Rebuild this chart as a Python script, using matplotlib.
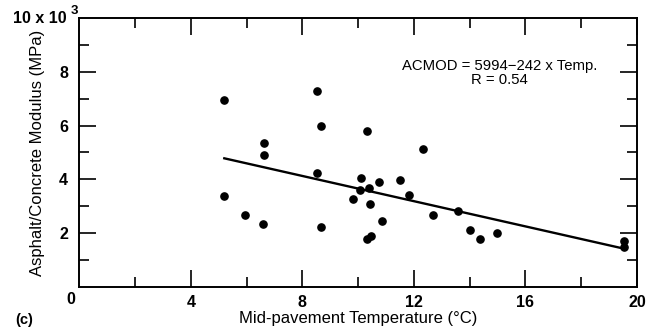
import numpy as np
import matplotlib
matplotlib.use("Agg")
import matplotlib.pyplot as plt

plt.rcParams['font.family'] = ['Liberation Sans', 'DejaVu Sans']

# mid-pavement temperature (deg C) vs AC modulus (x 10^3 MPa)
temp = [5.2, 5.2, 5.96, 6.6, 6.63, 6.61, 8.54, 8.54, 8.66, 8.68,
        9.81, 10.05, 10.12, 10.32, 10.39, 10.43, 10.33, 10.45, 10.73, 10.85,
        11.5, 11.82, 12.32, 12.69, 13.57, 14.0, 14.38, 14.98, 19.55, 19.52]
modulus = [6.97, 3.36, 2.68, 2.34, 5.35, 4.91, 7.28, 4.23, 2.21, 5.97,
           3.26, 3.61, 4.05, 5.78, 3.67, 3.09, 1.78, 1.9, 3.88, 2.45,
           3.96, 3.40, 5.14, 2.68, 2.81, 2.12, 1.77, 2.0, 1.70, 1.49]

# regression line end points
fit_x = [5.2, 19.5]
fit_y = [4.78, 1.42]

xticks = [4, 8, 12, 16, 20]
yticks = [2, 4, 6, 8]

fig = plt.figure(figsize=(6.68, 3.29), dpi=100)
ax = fig.add_axes([0.1187, 0.129, 0.8349, 0.8155])

ax.plot(temp, modulus, 'o', color='black', markersize=5.2, zorder=3)
ax.plot(fit_x, fit_y, '-', color='black', linewidth=1.7)

ax.set_xlim(0, 20)
ax.set_ylim(0, 10)

ax.set_xticks(xticks)
ax.set_xticklabels([str(t) for t in xticks], fontsize=11.5, fontweight='bold')
ax.set_xticks(np.arange(2, 20, 4), minor=True)
ax.set_yticks(yticks)
ax.set_yticklabels([str(t) for t in yticks], fontsize=11.5, fontweight='bold')
ax.set_yticks(np.arange(1, 10, 2), minor=True)

ax.tick_params(which='both', direction='in', top=True, right=True, width=1.2)
ax.tick_params(axis='x', which='major', length=12, pad=6)
ax.tick_params(axis='y', which='major', length=12, pad=8)
ax.tick_params(which='minor', length=7)
for s in ax.spines.values():
    s.set_linewidth(1.4)

# origin and top labels
ax.annotate('0', xy=(0, 0), xycoords='data', xytext=(-6, -9),
            textcoords='offset points', ha='center', va='center',
            fontsize=11.5, fontweight='bold')
ax.annotate('10 x 10', xy=(0, 10), xycoords='data', xytext=(-9, 0),
            textcoords='offset points', ha='right', va='center',
            fontsize=11.5, fontweight='bold')
ax.annotate('3', xy=(0, 10), xycoords='data', xytext=(-3.5, 5),
            textcoords='offset points', ha='center', va='center',
            fontsize=9.5, fontweight='bold')

ax.set_xlabel('Mid-pavement Temperature (\u00b0C)', fontsize=12, labelpad=1)
ax.set_ylabel('Asphalt/Concrete Modulus (MPa)', fontsize=12, labelpad=10)

ax.text(15.08, 7.95, 'ACMOD = 5994\u2212242 x Temp.\nR = 0.54', ha='center', va='center',
        fontsize=10.7, linespacing=1.0)

fig.text(24 / 668, 1 - 320 / 329, '(c)', ha='center', va='center',
         fontsize=10.5, fontweight='bold')

fig.savefig('out.png', dpi=100)
